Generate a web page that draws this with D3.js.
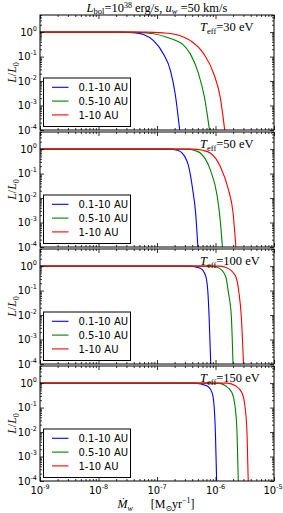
<!DOCTYPE html>
<html>
<head>
<meta charset="utf-8">
<script src="https://cdn.jsdelivr.net/npm/d3@7"></script>
<style>
  body { margin: 0; background: #fff; }
  svg { display: block; }
  .tick text { display: none; }
  .lbl { font-family: "DejaVu Sans", sans-serif; font-size: 10px; fill: #000; }
  .serif { font-family: "Liberation Serif", "DejaVu Serif", serif; fill: #000; }
</style>
</head>
<body>
<div id="vis"></div>
<script>
// temperatures of the four panels
var temps = [30, 50, 100, 150];
var seriesNames = ['0.1-10 AU', '0.5-10 AU', '1-10 AU'];
var seriesColors = ['#0000ff', '#008000', '#ff0000'];

// curves: [log10 Mdot (Msun/yr), log10 L/L0]
var t30Blue  = [[-9,0],[-7.6,0],[-7.4,-0.02],[-7.23,-0.1],[-7.06,-0.35],[-6.89,-0.89],[-6.77,-1.57],[-6.69,-2.51],[-6.61,-4.05]];
var t30Green = [[-9,0],[-7.4,0],[-7.06,-0.07],[-6.83,-0.21],[-6.66,-0.36],[-6.56,-0.5],[-6.43,-0.89],[-6.29,-1.7],[-6.19,-2.65],[-6.1,-4.05]];
var t30Red   = [[-9,0],[-7.2,0],[-6.9,-0.03],[-6.66,-0.11],[-6.43,-0.35],[-6.2,-0.89],[-6.03,-1.7],[-5.92,-2.65],[-5.84,-4.05]];

var t50Blue  = [[-9,0],[-6.8,0],[-6.65,-0.05],[-6.57,-0.16],[-6.46,-0.7],[-6.39,-1.65],[-6.34,-2.6],[-6.3,-4.05]];
var t50Green = [[-9,0],[-6.5,0],[-6.35,-0.06],[-6.26,-0.16],[-6.09,-0.84],[-5.97,-1.93],[-5.92,-2.88],[-5.88,-4.05]];
var t50Red   = [[-9,0],[-6.4,0],[-6.22,-0.05],[-6.09,-0.16],[-5.92,-0.7],[-5.78,-1.65],[-5.7,-2.6],[-5.65,-4.05]];

var t100Blue  = [[-9,0],[-6.45,0],[-6.26,-0.09],[-6.17,-0.39],[-6.13,-1.07],[-6.11,-2.03],[-6.08,-4.05]];
var t100Green = [[-9,0],[-6.1,0],[-5.97,-0.05],[-5.83,-0.39],[-5.78,-1.07],[-5.73,-2.03],[-5.7,-4.05]];
var t100Red   = [[-9,0],[-5.95,0],[-5.83,-0.05],[-5.66,-0.39],[-5.6,-1.07],[-5.56,-2.03],[-5.52,-4.05]];

var t150Blue  = [[-9,0],[-6.35,0],[-6.15,-0.11],[-6.06,-0.38],[-6.02,-1.06],[-6.0,-2.15],[-5.98,-4.05]];
var t150Green = [[-9,0],[-5.95,0],[-5.83,-0.11],[-5.72,-0.38],[-5.66,-1.06],[-5.63,-2.15],[-5.61,-4.05]];
var t150Red   = [[-9,0],[-5.8,0],[-5.66,-0.11],[-5.55,-0.38],[-5.49,-1.06],[-5.46,-2.15],[-5.44,-4.05]];

var curves = [
  [t30Blue, t30Green, t30Red],
  [t50Blue, t50Green, t50Red],
  [t100Blue, t100Green, t100Red],
  [t150Blue, t150Green, t150Red]
];

var xDecades = [-9, -8, -7, -6, -5];
var yDecades = [0, -1, -2, -3, -4];

var width = 283, height = 513;
var left = 40, right = 274;
var panelTops = [15, 132, 249, 366];
var panelH = 115;

var svg = d3.select('#vis').append('svg')
  .attr('width', width).attr('height', height);

var x = d3.scaleLog().domain([1e-9, 1e-5]).range([left, right]);

var xMajor = xDecades.map(function(e) { return Math.pow(10, e); });
var xMinor = [];
xDecades.slice(0, -1).forEach(function(e) {
  for (var k = 2; k <= 9; k++) xMinor.push(k * Math.pow(10, e));
});
var yMajor = yDecades.map(function(e) { return Math.pow(10, e); });
var yMinor = [];
[-4, -3, -2, -1, 0].forEach(function(e) {
  for (var k = 2; k <= 9; k++) if (k * Math.pow(10, e) <= 5) yMinor.push(k * Math.pow(10, e));
});

function supLabel(sel, base, exp) {
  sel.append('tspan').text(base);
  sel.append('tspan').attr('dy', -5).style('font-size', '6.5px').text(exp);
}

function addAxis(g, axis) {
  g.call(axis);
  g.select('.domain').remove();
  g.selectAll('.tick line').attr('stroke', '#000').attr('stroke-width', 0.8);
}

panelTops.forEach(function(top, p) {
  var bottom = top + panelH;
  var y = d3.scaleLog().domain([1e-4, 5]).range([bottom, top]);
  var g = svg.append('g');

  var clipId = 'clip' + p;
  svg.append('clipPath').attr('id', clipId).append('rect')
    .attr('x', left).attr('y', top).attr('width', right - left).attr('height', panelH);

  // curves
  var line = d3.line()
    .x(function(d) { return x(Math.pow(10, d[0])); })
    .y(function(d) { return y(Math.pow(10, d[1])); })
    .curve(d3.curveMonotoneX);

  g.append('g').attr('clip-path', 'url(#' + clipId + ')')
    .selectAll('path').data(curves[p]).enter().append('path')
    .attr('d', line)
    .attr('fill', 'none')
    .attr('stroke', function(d, i) { return seriesColors[i]; })
    .attr('stroke-width', 1.1);

  // ticks (pointing inward)
  addAxis(g.append('g').attr('transform', 'translate(0,' + bottom + ')'),
    d3.axisBottom(x).tickValues(xMajor).tickSize(-4).tickFormat(''));
  addAxis(g.append('g').attr('transform', 'translate(0,' + bottom + ')'),
    d3.axisBottom(x).tickValues(xMinor).tickSize(-2).tickFormat(''));
  addAxis(g.append('g').attr('transform', 'translate(0,' + top + ')'),
    d3.axisTop(x).tickValues(xMajor).tickSize(-4).tickFormat(''));
  addAxis(g.append('g').attr('transform', 'translate(0,' + top + ')'),
    d3.axisTop(x).tickValues(xMinor).tickSize(-2).tickFormat(''));
  addAxis(g.append('g').attr('transform', 'translate(' + left + ',0)'),
    d3.axisLeft(y).tickValues(yMajor).tickSize(-4).tickFormat(''));
  addAxis(g.append('g').attr('transform', 'translate(' + left + ',0)'),
    d3.axisLeft(y).tickValues(yMinor).tickSize(-2).tickFormat(''));
  addAxis(g.append('g').attr('transform', 'translate(' + right + ',0)'),
    d3.axisRight(y).tickValues(yMajor).tickSize(-4).tickFormat(''));
  addAxis(g.append('g').attr('transform', 'translate(' + right + ',0)'),
    d3.axisRight(y).tickValues(yMinor).tickSize(-2).tickFormat(''));

  // frame
  g.append('rect')
    .attr('x', left).attr('y', top).attr('width', right - left).attr('height', panelH)
    .attr('fill', 'none').attr('stroke', '#000').attr('stroke-width', 1);

  // y tick labels
  yDecades.forEach(function(e) {
    var t = g.append('text').attr('class', 'lbl')
      .attr('x', 37).attr('y', y(Math.pow(10, e)) + 3.5)
      .attr('text-anchor', 'end');
    supLabel(t, '10', e === 0 ? '0' : '-' + (-e));
  });

  // y label
  var yl = g.append('text').attr('class', 'serif')
    .attr('transform', 'translate(16,' + (top + panelH / 2) + ') rotate(-90)')
    .attr('text-anchor', 'middle').style('font-size', '12px');
  yl.append('tspan').style('font-style', 'italic').text('L');
  yl.append('tspan').text('/');
  yl.append('tspan').style('font-style', 'italic').text('L');
  yl.append('tspan').attr('dy', 3).style('font-size', '8px').text('0');

  // temperature label
  var tl = g.append('text').attr('class', 'serif')
    .attr('x', 200).attr('y', top + 15.5).style('font-size', '12.5px');
  tl.append('tspan').style('font-style', 'italic').text('T');
  tl.append('tspan').attr('dy', 3).style('font-size', '8.5px').text('eff');
  tl.append('tspan').attr('dy', -3).text('=' + temps[p] + ' eV');

  // legend
  var lx = 43.5, ly = bottom - 52;
  var leg = g.append('g');
  leg.append('rect').attr('x', lx).attr('y', ly).attr('width', 87).attr('height', 48.5)
    .attr('fill', '#fff').attr('stroke', '#000').attr('stroke-width', 1);
  seriesNames.forEach(function(name, i) {
    var ry = ly + 9.3 + i * 13.8;
    leg.append('line').attr('x1', lx + 8.5).attr('x2', lx + 25).attr('y1', ry).attr('y2', ry)
      .attr('stroke', seriesColors[i]).attr('stroke-width', 1.1);
    leg.append('text').attr('class', 'lbl').attr('x', lx + 35).attr('y', ry + 3.6).text(name);
  });

  // x tick labels on last panel
  if (p === panelTops.length - 1) {
    xDecades.forEach(function(e) {
      var t = g.append('text').attr('class', 'lbl')
        .attr('x', x(Math.pow(10, e)) - (e === -5 ? 1 : 0)).attr('y', bottom + 13)
        .attr('text-anchor', 'middle');
      supLabel(t, '10', '-' + (-e));
    });
  }
});

// title
var title = svg.append('text').attr('class', 'serif')
  .attr('x', (left + right) / 2).attr('y', 11.5).attr('text-anchor', 'middle')
  .style('font-size', '12.5px');
title.append('tspan').style('font-style', 'italic').text('L');
title.append('tspan').attr('dy', 2.5).style('font-size', '8.5px').text('bol');
title.append('tspan').attr('dy', -2.5).text('=10');
title.append('tspan').attr('dy', -4).style('font-size', '8px').text('38');
title.append('tspan').attr('dy', 4).text(' erg/s, ');
title.append('tspan').style('font-style', 'italic').text('u');
title.append('tspan').attr('dy', 2.5).style('font-size', '8.5px').style('font-style', 'italic').text('w');
title.append('tspan').attr('dy', -2.5).text(' =50 km/s');

// x label
var xl = svg.append('text').attr('class', 'serif')
  .attr('x', 156).attr('y', 508).attr('text-anchor', 'middle')
  .style('font-size', '12px');
xl.append('tspan').style('font-style', 'italic').text('M\u0307');
xl.append('tspan').attr('dy', 3).style('font-size', '8px').style('font-style', 'italic').text('w');
xl.append('tspan').attr('dy', -3).text('\u2003\u2002[M');
xl.append('tspan').attr('dy', 3).style('font-size', '8px').text('\u2299');
xl.append('tspan').attr('dy', -3).text('yr');
xl.append('tspan').attr('dy', -5).style('font-size', '8px').text('\u22121');
xl.append('tspan').attr('dy', 5).text(']');
</script>
</body>
</html>
